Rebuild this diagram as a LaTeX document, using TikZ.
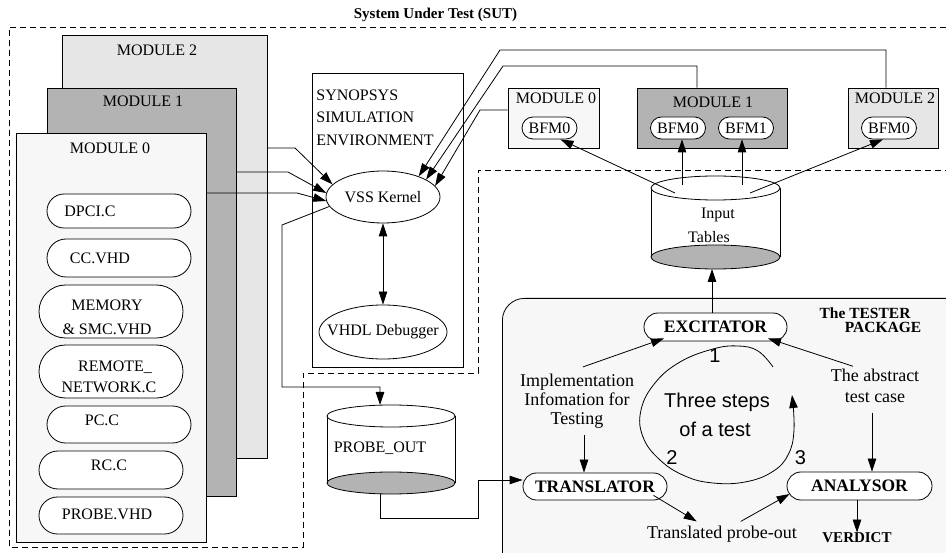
\documentclass[tikz,border=0pt]{standalone}
\usepackage{fontspec}
\setmainfont{Liberation Serif}
\newfontfamily\helv{Liberation Sans}
\usetikzlibrary{arrows.meta,shapes.geometric,shapes.misc,calc}
\definecolor{lite}{HTML}{F7F7F7}
\definecolor{midg}{HTML}{E6E6E6}
\definecolor{dark}{HTML}{B3B3B3}
\begin{document}
\begin{tikzpicture}[x=1pt,y=-1pt,line width=0.8pt,
  >={Triangle[length=13pt,width=8.5pt]},
  every node/.style={font=\fontsize{16}{19}\selectfont, inner sep=0pt},
  box/.style={draw, rectangle, inner sep=0pt},
  pill/.style={draw, fill=white, rounded rectangle, inner sep=0pt},
  bfm/.style={pill, minimum width=55pt, minimum height=22pt},
  item/.style={pill, minimum width=144pt},
  bnode/.style={pill, font=\fontsize{17.5}{20}\selectfont\bfseries, minimum width=144pt, minimum height=28pt},
  sut/.style={dash pattern=on 6pt off 4pt, line width=0.7pt},
  big/.style={font=\fontsize{20}{24}\selectfont\helv},
  tt/.style={font=\fontsize{18}{19}\selectfont, align=center},
  oval/.style={draw, ellipse, fill=white, inner sep=0pt},
]
\useasboundingbox (0,0) rectangle (946,553);
\clip (0,0) rectangle (946,553);

% title and SUT outline
\node[font=\fontsize{15}{18}\selectfont\bfseries, anchor=base] (title) at (435.5,18.5) {System Under Test (SUT)};
\draw[sut] (946,27) -- (9,27) -- (9,547) -- (303,547) -- (303,373) -- (478,373) -- (478,170) -- (946,170);

% stacked modules
\node[box, fill=midg, minimum width=205pt, minimum height=423pt] (m2) at (164.5,246.5) {};
\node (m2l) at (157,50) {MODULE 2};
\node[box, fill=dark, minimum width=189pt, minimum height=408pt] (m1) at (141.5,292) {};
\node (m1l) at (143,101) {MODULE 1};
\node[box, fill=lite, minimum width=190pt, minimum height=409pt] (m0) at (111,337.5) {};
\node (m0l) at (110,148) {MODULE 0};

% items of module 0
\node[item, minimum height=34pt] (p1) at (119,211) {};
\node (p1t) at (90,211) {DPCI.C};
\node[item, minimum height=38pt] (p2) at (119,258) {};
\node (p2t) at (100,258) {CC.VHD};
\node[item, minimum height=53pt] (p3) at (111,311.5) {};
\node[align=center, font=\fontsize{16}{24}\selectfont] (p3t) at (107,317) {MEMORY\\\& SMC.VHD};
\node[item, minimum height=53pt] (p4) at (111,371.5) {};
\node[anchor=base] (p4a) at (115,371.5) {REMOTE\_};
\node (p4b) at (109,387) {NETWORK.C};
\node[item, minimum height=37pt] (p5) at (119,424.5) {};
\node (p5t) at (102,420) {PC.C};
\node[item, minimum height=38pt] (p6) at (111,470) {};
\node (p6t) at (109,465) {RC.C};
\node[item, minimum height=37pt] (p7) at (111,515.5) {};
\node (p7t) at (107,514) {PROBE.VHD};

% synopsys environment
\node[box, minimum width=151pt, minimum height=294pt] (syn) at (387.5,220) {};
\node[anchor=north west, align=left, font=\fontsize{16}{22.5}\selectfont] (synt) at (316,89.5) {SYNOPSYS\\SIMULATION\\ENVIRONMENT};
\node[oval, minimum width=114pt, minimum height=52pt, label={center:VSS Kernel}] (vss) at (383,197) {};
\node[oval, minimum width=128pt, minimum height=54pt, label={center:VHDL Debugger}] (dbg) at (383,332) {};
\draw[<->] (vss) -- (dbg);

\draw[->] ([yshift=98.5pt]m2.east) -- (295,148) -- (vss.166);
\draw[->] ([yshift=120pt]m1.east) -- (288,172) -- (vss.176);
\draw[->] ([yshift=144.5pt]m0.east) -- (297,193) -- (vss.184);

% probe out cylinder
\fill[white] (327,416) rectangle (455,483);
\draw (327,416) -- (327,483) (455,416) -- (455,483);
\draw[fill=dark] (391,483) ellipse [x radius=64pt, y radius=11pt];
\draw[fill=white] (391,416) ellipse [x radius=64pt, y radius=11pt];
\node (probe) at (380,448) {PROBE\_OUT};
\coordinate (ptop) at (380,405);
\coordinate (pbot) at (380,494);
\draw[->] (vss.190) -- (282,225) -- (282,387) -- (380,387) -- (ptop);

% top right modules
\node[box, fill=lite, minimum width=91pt, minimum height=60pt] (t0) at (553.5,118) {};
\node (t0l) at (556,98) {MODULE 0};
\node[box, fill=dark, minimum width=150pt, minimum height=60pt] (t1) at (712,118) {};
\node (t1l) at (713,102) {MODULE 1};
\node[box, fill=midg, minimum width=90pt, minimum height=60pt] (t2) at (893,118) {};
\node (t2l) at (895,98) {MODULE 2};
\node[bfm] (b00) at (549.5,128) {BFM0};
\node[bfm] (b10) at (678,128) {BFM0};
\node[bfm] (b11) at (746,128) {BFM1};
\node[bfm] (b20) at (889,128) {BFM0};

\draw[->] ([xshift=-7pt]t2.north) -- (886,50) -- (500,50) -- (vss.30);
\draw[->] ([xshift=-15pt]t1.north) -- (697,66) -- (503,66) -- (vss.22);
\draw[->] ([yshift=8pt]t0.west) -- (480,110) -- (vss.12);

% input tables cylinder
\fill[white] (651,188) rectangle (780,257);
\draw (651,188) -- (651,257) (780,188) -- (780,257);
\draw[fill=dark] (715.5,257) ellipse [x radius=64.5pt, y radius=12pt];
\draw[fill=white] (715.5,188) ellipse [x radius=64.5pt, y radius=12pt];
\node (it1) at (718,215) {Input};
\node (it2) at (709,237) {Tables};
\coordinate (tA) at (675,193);
\coordinate (tB) at (682,185);
\coordinate (tC) at (742,185);
\coordinate (tD) at (750,193);
\coordinate (tbot) at (712,269);
\draw[->] (tA) -- ([xshift=11pt]b00.south);
\draw[->] (tB) -- ([xshift=4pt]b10.south);
\draw[->] (tC) -- ([xshift=-4pt]b11.south);
\draw[->] (tD) -- ([xshift=-6pt]b20.south);

% tester package
\node[box, fill=lite, rounded corners=22pt, minimum width=468pt, minimum height=282pt, anchor=north west] (tp) at (502,298) {};
\node[font=\fontsize{15.5}{18}\selectfont\bfseries] (tpa) at (865,313) {The TESTER};
\node[font=\fontsize{15.5}{18}\selectfont\bfseries] (tpb) at (883,327) {PACKAGE};

\node[bnode, minimum width=143pt] (ex) at (715.5,327) {EXCITATOR};
\node[bnode, minimum height=27pt] (tr) at (595,486.5) {TRANSLATOR};
\node[bnode, minimum width=145pt] (an) at (859.5,486) {ANALYSOR};
\draw[->] (ex.north -| tbot) -- (tbot);

\node[tt] (impl) at (577,401.5) {Implementation\\Infomation for\\Testing};
\node[tt, font=\fontsize{18}{21}\selectfont] (abs) at (875,385.5) {The abstract\\test case};
\node[font=\fontsize{18}{20}\selectfont] (tpo) at (722,534) {Translated probe-out};
\node[font=\fontsize{15}{18}\selectfont\bfseries] (ver) at (857,538) {VERDICT};

\draw[->] ([xshift=6pt,yshift=7pt]impl.north) -- ([xshift=6pt,yshift=3pt]ex.south west);
\draw[->] ([xshift=7pt,yshift=-6pt]impl.south) -- ([xshift=-11pt]tr.north);
\draw[->] ([xshift=-22pt,yshift=2pt]abs.north) -- ([xshift=-5pt,yshift=3pt]ex.south east);
\draw[->] ([xshift=-3pt,yshift=-10pt]abs.south) -- ([xshift=12.5pt]an.north);
\draw[->] ([yshift=5pt]tr.south east) -- ([xshift=50pt,yshift=4pt]tpo.north west);
\draw[->] ([xshift=94pt,yshift=4pt]tpo.north west) -- ([xshift=3pt,yshift=-8pt]an.west);
\draw[->] ([xshift=-2.5pt]an.south) -- (ver);

\draw[->] (pbot) -- (380,518) -- (478,518) -- (478,480) -- ([yshift=6.5pt]tr.west);

% cycle
\draw[->] plot[smooth, tension=0.7] coordinates {(773,367) (758,351) (738,346) (713,349) (680,362) (655,383) (641,410) (643,437) (660,460) (685,476) (713,483) (745,482) (772,472) (788,455) (794,430) (792,395)};
\node[big] (ts1) at (717,402) {Three steps};
\node[big] (ts2) at (715,429.5) {of a test};
\node[big] (n1) at (715,355.5) {1};
\node[big] (n2) at (672,457.5) {2};
\node[big] (n3) at (800.5,457.5) {3};
\end{tikzpicture}
\end{document}
